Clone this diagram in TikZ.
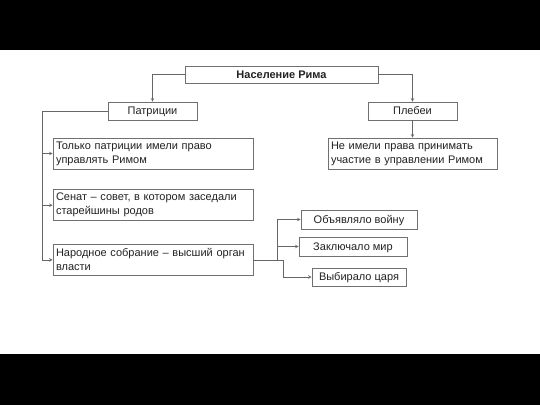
\documentclass[tikz,border=0pt]{standalone}
\usepackage{fontspec}
\setmainfont{Liberation Sans}
\usetikzlibrary{arrows,positioning}
\definecolor{boxgray}{HTML}{707070}
\definecolor{linegray}{HTML}{666666}
\definecolor{txtgray}{HTML}{222222}

\begin{document}
\begin{tikzpicture}[x=1pt,y=-1pt,>=stealth,
  every node/.style={shape=rectangle,draw=boxgray,line width=0.7pt,fill=white,text=txtgray,font=\fontsize{11}{14}\selectfont,inner sep=3pt},
  wide/.style={text width=194pt,align=left,minimum height=31pt},
  single/.style={text height=8pt,text depth=0.5pt},
  conn/.style={draw=linegray,line width=0.6pt}]
	% frame of the slide
	\useasboundingbox (0,0) rectangle (540,405);
	\fill[black] (0,0) rectangle (540,50);
	\fill[black] (0,354) rectangle (540,405);

	% create the nodes
	\node (pop) at (281.5,74.5) [single, minimum width=193pt, minimum height=17pt, font=\fontsize{11}{14}\selectfont\bfseries]{Население Рима};
	\node (patr) at (152.5,111) [single, minimum width=89pt, minimum height=18pt]{Патриции};
	\node (pleb) at (412.5,111) [single, minimum width=89pt, minimum height=18pt]{Плебеи};
	\node (p1) at (153,153.5) [wide]{Только патриции имели право\\управлять Римом};
	\node (p2) [below=20pt of p1, wide]{Сенат -- совет, в котором заседали\\старейшины родов};
	\node (p3) [below=23pt of p2, wide]{Народное собрание -- высший орган\\власти};
	\node (pl1) at (412.5,153.5) [text width=163pt, align=left, minimum height=31pt]{Не имели права принимать\\участие в управлении Римом};
	\node (act1) at (359,219.5) [single, minimum width=116pt, minimum height=19pt]{Объявляло войну};
	\node (act2) at (353,246.5) [single, minimum width=108pt, minimum height=19pt]{Заключало мир};
	\node (act3) at (359,277) [single, minimum width=94pt, minimum height=18pt]{Выбирало царя};

	% connect the nodes
	\draw[conn,->] (pop.west) -| (patr);
	\draw[conn,->] (pop.east) -| (pleb);
	\draw[conn,->] (pleb) -- (pl1);
	\coordinate (ltrunk) at (42,111);
	\draw[conn] (patr) -- (ltrunk);
	\foreach \p in {p1,p2,p3}
		\draw[conn,->] (ltrunk) |- (\p);
	\coordinate (rfork) at ([xshift=24pt]p3.east);
	\coordinate (rfork2) at ([xshift=30pt]p3.east);
	\draw[conn] (p3) -- (rfork2);
	\draw[conn,->] (rfork) |- (act1);
	\draw[conn,->] (rfork) |- (act2);
	\draw[conn,->] (rfork2) |- (act3);

\end{tikzpicture}
\end{document}
